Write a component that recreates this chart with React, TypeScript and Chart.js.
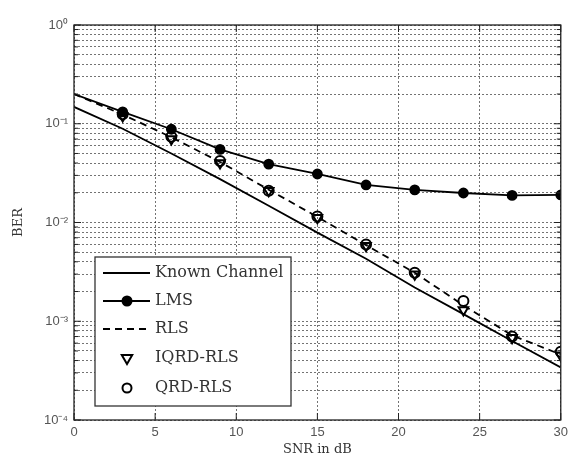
import React, { useEffect, useRef } from 'react';
import { Chart, registerables } from 'chart.js';

Chart.register(...registerables);

// ---- data ----
const snrLine = [0, 3, 6, 9, 12, 15, 18, 21, 24, 27, 30];
const snrMarkers = [3, 6, 9, 12, 15, 18, 21, 24, 27, 30];
const knownChannel = [0.148, 0.089, 0.05, 0.0275, 0.0148, 0.0079, 0.0043, 0.0022, 0.00118, 0.00063, 0.00034];
const lms = [0.2, 0.132, 0.088, 0.055, 0.039, 0.031, 0.024, 0.0214, 0.0199, 0.0188, 0.019];
const rls = [0.2, 0.124, 0.073, 0.041, 0.0215, 0.0114, 0.0059, 0.0031, 0.00145, 0.00072, 0.00046];
const iqrdRls = [0.12, 0.07, 0.04, 0.021, 0.0112, 0.0058, 0.003, 0.0013, 0.00068, 0.00045];
const qrdRls = [0.125, 0.074, 0.042, 0.021, 0.0115, 0.006, 0.0031, 0.0016, 0.0007, 0.00049];
const seriesNames = ['Known Channel', 'LMS', 'RLS', 'IQRD-RLS', 'QRD-RLS'];
const xTicks = [0, 5, 10, 15, 20, 25, 30];
const yDecades = [1e-4, 1e-3, 1e-2, 1e-1, 1];
const yDecadeLabels = ['10⁻⁴', '10⁻³', '10⁻²', '10⁻¹', '10⁰'];

const pts = (xs: number[], ys: number[]) => xs.map((x, i) => ({ x, y: ys[i] }));

const framePlugin = {
  id: 'frameAndLegend',
  afterDatasetsDraw(chart: any) {
    const ctx = chart.ctx;
    const { left, right, top, bottom } = chart.chartArea;
    const xs = chart.scales.x;
    const ys = chart.scales.y;
    ctx.save();
    ctx.strokeStyle = '#222';
    ctx.lineWidth = 1.3;
    ctx.setLineDash([]);
    ctx.strokeRect(left, top, right - left, bottom - top);
    // inward ticks
    ctx.lineWidth = 1;
    xTicks.forEach((v) => {
      const px = xs.getPixelForValue(v);
      ctx.beginPath();
      ctx.moveTo(px, bottom);
      ctx.lineTo(px, bottom - 7);
      ctx.moveTo(px, top);
      ctx.lineTo(px, top + 7);
      ctx.stroke();
    });
    for (let d = 0; d < yDecades.length; d++) {
      for (let m = 1; m <= 9; m++) {
        const v = yDecades[d] * m;
        if (v > 1.0000001) break;
        const py = ys.getPixelForValue(v);
        const len = m === 1 ? 7 : 4;
        ctx.beginPath();
        ctx.moveTo(left, py);
        ctx.lineTo(left + len, py);
        ctx.moveTo(right, py);
        ctx.lineTo(right - len, py);
        ctx.stroke();
      }
    }
    // legend
    const bx = 95, by = 257, bw = 196, bh = 149;
    ctx.fillStyle = '#fff';
    ctx.fillRect(bx, by, bw, bh);
    ctx.strokeStyle = '#333';
    ctx.lineWidth = 1.3;
    ctx.strokeRect(bx, by, bw, bh);
    const rows = [273, 301, 329, 358, 388];
    const ds = chart.data.datasets;
    ctx.font = '16px "DejaVu Serif", serif';
    ctx.textBaseline = 'middle';
    ctx.textAlign = 'left';
    rows.forEach((ry, i) => {
      const d = ds[i];
      ctx.strokeStyle = '#000';
      if (d.showLine !== false) {
        ctx.lineWidth = d.borderWidth;
        ctx.setLineDash(d.borderDash || []);
        ctx.beginPath();
        ctx.moveTo(103, ry);
        ctx.lineTo(150, ry);
        ctx.stroke();
        ctx.setLineDash([]);
      }
      if (d.legendMarker) {
        ctx.lineWidth = 2;
        ctx.fillStyle = d.pointBackgroundColor;
        ctx.strokeStyle = '#000';
        ctx.beginPath();
        if (d.pointStyle === 'triangle') {
          const r = 6;
          ctx.moveTo(127 - r * 0.87, ry - r * 0.5);
          ctx.lineTo(127 + r * 0.87, ry - r * 0.5);
          ctx.lineTo(127, ry + r);
          ctx.closePath();
        } else {
          ctx.arc(127, ry, 4.5, 0, Math.PI * 2);
        }
        ctx.fill();
        ctx.stroke();
      }
      ctx.fillStyle = '#333';
      ctx.fillText(seriesNames[i], 155, ry);
    });
    ctx.restore();
  },
};

export default function App() {
  const ref = useRef<HTMLCanvasElement | null>(null);
  useEffect(() => {
    if (!ref.current) return;
    const gridColor = 'rgba(0,0,0,0.55)';
    const tickFont = { family: '"Liberation Sans", Arial, sans-serif', size: 13 };
    const chart = new Chart(ref.current, {
      type: 'line',
      data: {
        datasets: [
          {
            label: seriesNames[0],
            data: pts(snrLine, knownChannel),
            borderColor: '#000',
            borderWidth: 1.8,
            pointRadius: 0,
            fill: false,
          },
          {
            label: seriesNames[1],
            data: pts(snrLine, lms),
            borderColor: '#000',
            borderWidth: 1.8,
            pointRadius: (c: any) => (c.dataIndex === 0 ? 0 : 4.5),
            pointBackgroundColor: '#000',
            pointBorderColor: '#000',
            pointStyle: 'circle',
            legendMarker: true,
            fill: false,
          } as any,
          {
            label: seriesNames[2],
            data: pts(snrLine, rls),
            borderColor: '#000',
            borderWidth: 1.8,
            borderDash: [7, 5],
            pointRadius: 0,
            fill: false,
          },
          {
            label: seriesNames[3],
            data: pts(snrMarkers, iqrdRls),
            showLine: false,
            pointStyle: 'triangle',
            rotation: 180,
            pointRadius: 5.5,
            pointBorderWidth: 2,
            pointBorderColor: '#000',
            pointBackgroundColor: 'rgba(255,255,255,0)',
            borderColor: '#000',
            legendMarker: true,
          } as any,
          {
            label: seriesNames[4],
            data: pts(snrMarkers, qrdRls),
            showLine: false,
            pointStyle: 'circle',
            pointRadius: 5,
            pointBorderWidth: 2,
            pointBorderColor: '#000',
            pointBackgroundColor: 'rgba(255,255,255,0)',
            borderColor: '#000',
            legendMarker: true,
          } as any,
        ],
      },
      options: {
        responsive: false,
        maintainAspectRatio: false,
        animation: false,
        layout: { padding: { top: 25, right: 9, left: 0, bottom: 0 } },
        plugins: { legend: { display: false }, tooltip: { enabled: false } },
        scales: {
          x: {
            type: 'linear',
            min: 0,
            max: 30,
            afterBuildTicks: (s: any) => {
              s.ticks = xTicks.map((v) => ({ value: v }));
            },
            afterFit: (s: any) => {
              s.height = 37;
            },
            ticks: { color: '#555', font: tickFont, padding: 5, maxRotation: 0 },
            grid: { color: gridColor, drawTicks: false, lineWidth: 1 },
            border: { display: false, dash: [2, 2] },
            title: {
              display: true,
              text: 'SNR in dB',
              color: '#333',
              font: { family: '"DejaVu Serif", serif', size: 13 },
              padding: { top: 1, bottom: 0 },
            },
          },
          y: {
            type: 'logarithmic',
            min: 1e-4,
            max: 1,
            afterBuildTicks: (s: any) => {
              const t: any[] = [];
              yDecades.forEach((d) => {
                for (let m = 1; m <= 9; m++) {
                  const v = d * m;
                  if (v <= 1.0000001) t.push({ value: v });
                }
              });
              s.ticks = t;
            },
            afterFit: (s: any) => {
              s.width = 74;
            },
            ticks: {
              color: '#555',
              font: tickFont,
              padding: 6,
              autoSkip: false,
              callback: (v: any) => {
                const idx = yDecades.findIndex((d) => Math.abs(d - v) / d < 1e-6);
                return idx >= 0 ? yDecadeLabels[idx] : '';
              },
            },
            grid: { color: gridColor, drawTicks: false, lineWidth: 1 },
            border: { display: false, dash: [2, 2] },
            title: {
              display: true,
              text: 'BER',
              color: '#333',
              font: { family: '"DejaVu Serif", serif', size: 13 },
              padding: { top: 11, bottom: 0 },
            },
          },
        },
      } as any,
      plugins: [framePlugin],
    });
    return () => chart.destroy();
  }, []);
  return (
    <div style={{ position: 'absolute', left: 0, top: 0, width: 573, height: 457, background: '#fff' }}>
      <canvas ref={ref} width={573} height={457} style={{ display: 'block' }} />
    </div>
  );
}
